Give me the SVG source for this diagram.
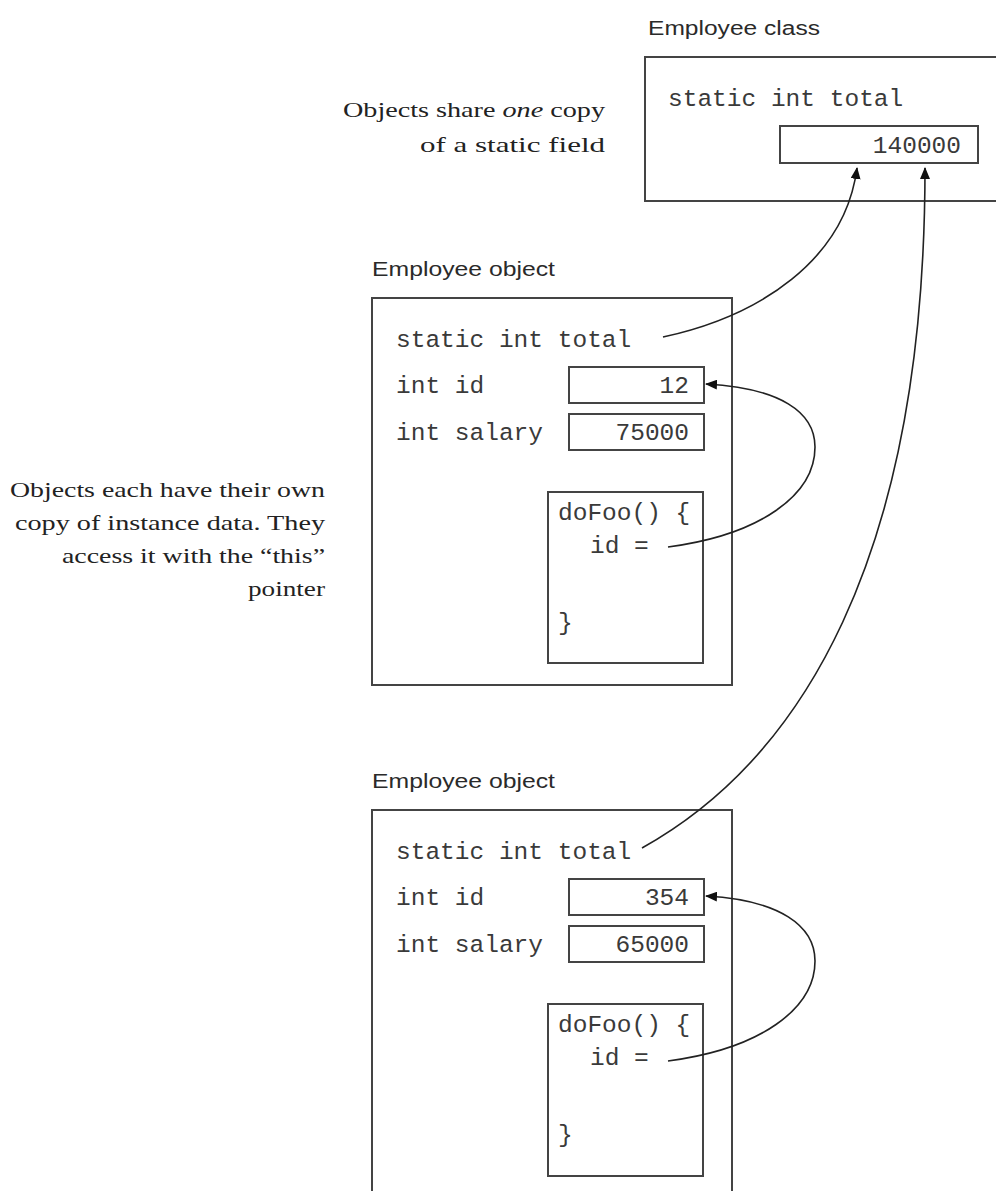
<svg xmlns="http://www.w3.org/2000/svg" width="996" height="1191" viewBox="0 0 996 1191">
  <style>
    .box { fill: none; stroke: #444; stroke-width: 2; }
    .val { fill: #fff; stroke: #444; stroke-width: 2; }
    .mono { font-family: "Liberation Mono", "Courier New", monospace; font-size: 24.5px; fill: #3a3a3a; }
    .sans { font-family: "Liberation Sans", Arial, sans-serif; font-size: 20px; fill: #2a2a2a; }
    .serif { font-family: "Liberation Serif", "Times New Roman", serif; font-size: 22px; fill: #222; }
    .end { text-anchor: end; }
    .conn { fill: none; stroke: #222; stroke-width: 1.6; }
  </style>
  <defs>
    <marker id="arrow" markerUnits="userSpaceOnUse" markerWidth="12" markerHeight="10" refX="11" refY="5" orient="auto">
      <path d="M0,0 L12,5 L0,10 z" fill="#111"/>
    </marker>
  </defs>
  <rect width="996" height="1191" fill="#fff"/>

  <g id="note-static">
    <text class="serif end" x="605" y="117" textLength="262" lengthAdjust="spacingAndGlyphs">Objects share <tspan font-style="italic">one</tspan> copy</text>
    <text class="serif end" x="605" y="152" textLength="185" lengthAdjust="spacingAndGlyphs">of a static field</text>
  </g>

  <g id="note-instance">
    <text class="serif end" x="325" y="497" textLength="315" lengthAdjust="spacingAndGlyphs">Objects each have their own</text>
    <text class="serif end" x="325" y="530" textLength="310" lengthAdjust="spacingAndGlyphs">copy of instance data. They</text>
    <text class="serif end" x="325" y="563" textLength="263" lengthAdjust="spacingAndGlyphs">access it with the “this”</text>
    <text class="serif end" x="325" y="596" textLength="77" lengthAdjust="spacingAndGlyphs">pointer</text>
  </g>

  <g id="employee-class">
    <text class="sans" x="648" y="35" textLength="172" lengthAdjust="spacingAndGlyphs">Employee class</text>
    <rect class="box" x="645" y="57" width="360" height="144"/>
    <text class="mono" x="668" y="106">static int total</text>
    <rect class="val" x="780" y="126" width="198" height="37"/>
    <text class="mono end" x="961" y="153">140000</text>
  </g>

  <g id="employee-object-1">
    <text class="sans" x="372" y="276" textLength="183" lengthAdjust="spacingAndGlyphs">Employee object</text>
    <rect class="box" x="372" y="298" width="360" height="387"/>
    <text class="mono" x="396" y="347">static int total</text>
    <text class="mono" x="396" y="393">int id</text>
    <rect class="val" x="569" y="367" width="135" height="36"/>
    <text class="mono end" x="689" y="393">12</text>
    <text class="mono" x="396" y="440">int salary</text>
    <rect class="val" x="569" y="414" width="135" height="36"/>
    <text class="mono end" x="689" y="440">75000</text>
    <g id="dofoo-1">
      <rect class="box" x="548" y="492" width="155" height="171"/>
      <text class="mono" x="558" y="520">doFoo() {</text>
      <text class="mono" x="590" y="553">id =</text>
      <text class="mono" x="558" y="630">}</text>
    </g>
  </g>

  <g id="employee-object-2">
    <text class="sans" x="372" y="788" textLength="183" lengthAdjust="spacingAndGlyphs">Employee object</text>
    <path class="box" d="M372,1200 V810 H732 V1200"/>
    <text class="mono" x="396" y="859">static int total</text>
    <text class="mono" x="396" y="905">int id</text>
    <rect class="val" x="569" y="879" width="135" height="36"/>
    <text class="mono end" x="689" y="905">354</text>
    <text class="mono" x="396" y="952">int salary</text>
    <rect class="val" x="569" y="926" width="135" height="36"/>
    <text class="mono end" x="689" y="952">65000</text>
    <g id="dofoo-2">
      <rect class="box" x="548" y="1004" width="155" height="172"/>
      <text class="mono" x="558" y="1032">doFoo() {</text>
      <text class="mono" x="590" y="1065">id =</text>
      <text class="mono" x="558" y="1142">}</text>
    </g>
  </g>

  <g id="connectors">
    <path class="conn" d="M663,337 C760,316 845,260 857,168" marker-end="url(#arrow)"/>
    <path class="conn" d="M642,848 C800,760 925,560 925,168" marker-end="url(#arrow)"/>
    <path class="conn" d="M668,547 C760,535 815,495 815,447 C815,412 780,388 706,384" marker-end="url(#arrow)"/>
    <path class="conn" d="M668,1061 C760,1049 815,1009 815,961 C815,926 780,900 706,896" marker-end="url(#arrow)"/>
  </g>
</svg>
